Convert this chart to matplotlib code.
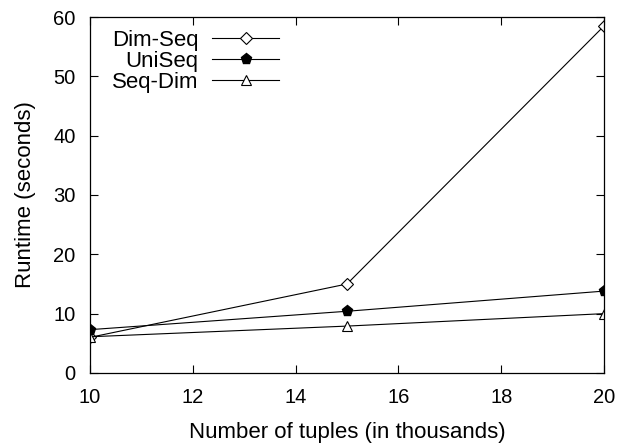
import matplotlib
matplotlib.use("Agg")
import matplotlib.pyplot as plt

plt.rcParams['font.family'] = ['Liberation Sans', 'DejaVu Sans']

tuples = [10, 15, 20]
dim_seq = [6.0, 15.0, 58.5]
uni_seq = [7.3, 10.4, 13.8]
seq_dim = [6.1, 7.9, 10.0]

fig = plt.figure(figsize=(6.26, 4.44), dpi=100)
ax = fig.add_axes([0.1438, 0.16, 0.8212, 0.8017])

ax.plot(tuples, dim_seq, color='black', lw=0.8, marker='D', ms=6.5,
        mfc='white', mec='black', mew=0.8, label='Dim-Seq')
ax.plot(tuples, uni_seq, color='black', lw=0.8, marker='p', ms=8,
        mfc='black', mec='black', label='UniSeq')
ax.plot(tuples, seq_dim, color='black', lw=0.8, marker='^', ms=7.5,
        mfc='white', mec='black', mew=0.8, label='Seq-Dim')

ax.set_xlim(10, 20)
ax.set_ylim(0, 60)
ax.set_xticks([10, 12, 14, 16, 18, 20])
ax.set_yticks([0, 10, 20, 30, 40, 50, 60])
ax.tick_params(direction='in', top=True, right=True, length=5.5, width=0.8,
               labelsize=14.5, pad=10.5)
for s in ax.spines.values():
    s.set_linewidth(0.9)

ax.set_xlabel('Number of tuples (in thousands)', fontsize=16, labelpad=11)
ax.set_ylabel('Runtime (seconds)', fontsize=16, labelpad=12)

ax.legend(loc='upper left', bbox_to_anchor=(0.025, 0.989), frameon=False,
          markerfirst=False, handlelength=3.0, fontsize=16,
          labelspacing=0.0, handletextpad=0.64, borderaxespad=0.0)

fig.savefig('out.png', dpi=100)
